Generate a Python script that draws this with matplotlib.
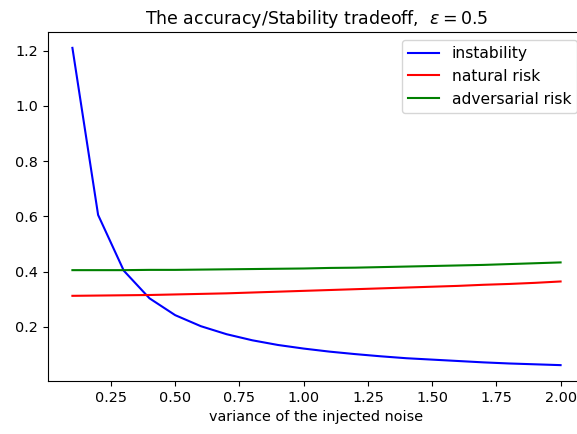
import numpy as np
import matplotlib
matplotlib.use("Agg")
import matplotlib.pyplot as plt

# noise variance levels
variance = [0.1, 0.2, 0.3, 0.4, 0.5, 0.6, 0.7, 0.8, 0.9, 1.0,
            1.1, 1.2, 1.3, 1.4, 1.5, 1.6, 1.7, 1.8, 1.9, 2.0]

instability = [1.21, 0.605, 0.403, 0.303, 0.242, 0.202, 0.173, 0.151, 0.134, 0.121,
               0.110, 0.101, 0.093, 0.086, 0.081, 0.076, 0.071, 0.067, 0.064, 0.061]

natural_risk = [0.312, 0.313, 0.314, 0.315, 0.317, 0.319, 0.321, 0.324, 0.327, 0.330,
                0.333, 0.336, 0.339, 0.342, 0.345, 0.348, 0.352, 0.355, 0.359, 0.364]

adversarial_risk = [0.405, 0.405, 0.405, 0.406, 0.406, 0.407, 0.408, 0.409, 0.410, 0.411,
                    0.413, 0.414, 0.416, 0.418, 0.420, 0.422, 0.424, 0.427, 0.430, 0.433]

plt.rcParams['font.size'] = 10.4

fig = plt.figure(figsize=(5.77, 4.34), dpi=100)
ax = fig.add_axes([48 / 577, 53 / 434, 537 / 577, 349 / 434])

ax.plot(variance, instability, 'b-', label='instability')
ax.plot(variance, natural_risk, 'r-', label='natural risk')
ax.plot(variance, adversarial_risk, 'g-', label='adversarial risk')

ax.set_xticks([0.25, 0.5, 0.75, 1.0, 1.25, 1.5, 1.75, 2.0])
ax.set_xlabel('variance of the injected noise')
ax.set_title(r'The accuracy/Stability tradeoff,  $\epsilon = 0.5$')
ax.legend(loc='upper right', fontsize=11.2)

fig.savefig('out.png', dpi=100)
